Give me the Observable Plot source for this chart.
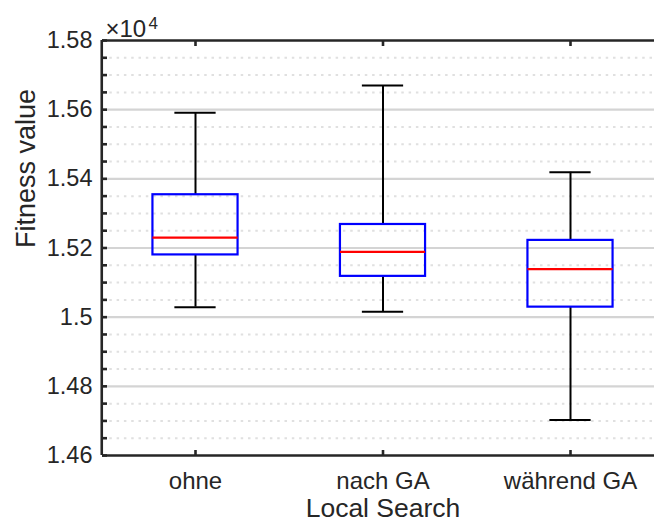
<!DOCTYPE html>
<html><head><meta charset="utf-8">
<script src="https://cdn.jsdelivr.net/npm/d3@7"></script>
<script src="https://cdn.jsdelivr.net/npm/@observablehq/plot@0.6"></script>
<style>
html,body{margin:0;padding:0;background:#fff;overflow:hidden;width:654px;height:524px;}
#chart{position:relative;width:654px;height:524px;overflow:hidden;}
#chart svg{overflow:hidden;display:block;}
</style></head>
<body><div id="chart"></div>
<script>
const categories = ["ohne", "nach GA", "während GA"];
const whiskerLow  = [15029, 15016, 14703];
const q1          = [15180, 15118, 15029];
const median      = [15230, 15189, 15139];
const q3          = [15354, 15268, 15222];
const whiskerHigh = [15591, 15670, 15419];
const yMajorTicks = d3.range(14600, 15801, 200);
const yMinorTicks = d3.range(14600, 15801, 50).filter(v => v % 200 !== 0);
const yAllTicks = d3.range(14600, 15801, 50);

const data = categories.map((c, i) => ({
  name: c, i: i + 1,
  lo: whiskerLow[i], q1: q1[i], med: median[i], q3: q3[i], hi: whiskerHigh[i]
}));

const boxHalf = 0.227, capHalf = 0.11;
const font = '"Liberation Sans", Arial, Helvetica, sans-serif';
const axisColor = "#262626";

const plot = Plot.plot({
  width: 654, height: 524,
  marginTop: 40, marginBottom: 69, marginLeft: 102, marginRight: 0,
  style: {fontFamily: font, background: "#fff", overflow: "hidden"},
  x: {domain: [0.5, 3.5], range: [101.25, 663.75]},
  y: {domain: [14600, 15800]},
  marks: [
    Plot.ruleY(yMinorTicks, {stroke: "#e0e0e0", strokeWidth: 2, strokeDasharray: "2.5,4.8"}),
    Plot.ruleY(yMajorTicks.filter(v => v > 14600 && v < 15800), {stroke: "#d4d4d4", strokeWidth: 2.2}),
    // whiskers
    Plot.ruleX(data, {x: "i", y1: "q3", y2: "hi", stroke: "black", strokeWidth: 2}),
    Plot.ruleX(data, {x: "i", y1: "lo", y2: "q1", stroke: "black", strokeWidth: 2}),
    Plot.ruleY(data, {y: "hi", x1: d => d.i - capHalf, x2: d => d.i + capHalf, stroke: "black", strokeWidth: 2}),
    Plot.ruleY(data, {y: "lo", x1: d => d.i - capHalf, x2: d => d.i + capHalf, stroke: "black", strokeWidth: 2}),
    // boxes
    Plot.rect(data, {x1: d => d.i - boxHalf, x2: d => d.i + boxHalf, y1: "q1", y2: "q3", fill: "none", stroke: "#0000ff", strokeWidth: 2.2}),
    Plot.ruleY(data, {y: "med", x1: d => d.i - boxHalf, x2: d => d.i + boxHalf, stroke: "#ff0000", strokeWidth: 2.2}),
    // axes frame
    Plot.ruleY([14600, 15800], {stroke: axisColor, strokeWidth: 2.6}),
    Plot.ruleX([0.5], {stroke: axisColor, strokeWidth: 2.6}),
    // inward ticks
    Plot.axisY({ticks: yAllTicks, tickSize: -5, tickFormat: () => "", stroke: axisColor, strokeOpacity: 1, strokeWidth: 2.6}),
    Plot.axisX({anchor: "bottom", ticks: [1, 2, 3], tickSize: -5, tickFormat: () => "", stroke: axisColor, strokeOpacity: 1, strokeWidth: 2.6, label: null}),
    Plot.axisX({anchor: "top", ticks: [1, 2, 3], tickSize: -5, tickFormat: () => "", stroke: axisColor, strokeOpacity: 1, strokeWidth: 2.6, label: null}),
    // labels
    Plot.axisY({ticks: yMajorTicks, tickSize: 0, tickPadding: 10, tickFormat: d => String(+(d / 1e4).toFixed(2)),
      fontSize: 23.5, fill: axisColor, label: null}),
    Plot.axisX({anchor: "bottom", ticks: [1, 2, 3], tickSize: 0, tickPadding: 16,
      tickFormat: d => categories[d - 1], fontSize: 24, fill: axisColor, label: null}),
    Plot.text(["Local Search"], {frameAnchor: "bottom", lineAnchor: "middle", dy: 53, fontSize: 26.5, fill: axisColor,
      x: () => 2}),
    Plot.text(["Fitness value"], {frameAnchor: "left", lineAnchor: "middle", dx: -76, rotate: -90, fontSize: 27, fill: axisColor}),
    Plot.text(["×10"], {frameAnchor: "top-left", textAnchor: "start", lineAnchor: "middle", dx: 3, dy: -11.5, fontSize: 24, fill: axisColor}),
    Plot.text(["4"], {frameAnchor: "top-left", textAnchor: "start", lineAnchor: "middle", dx: 46, dy: -16.5, fontSize: 17, fill: axisColor})
  ]
});
document.getElementById("chart").appendChild(plot);
</script>
</body></html>
